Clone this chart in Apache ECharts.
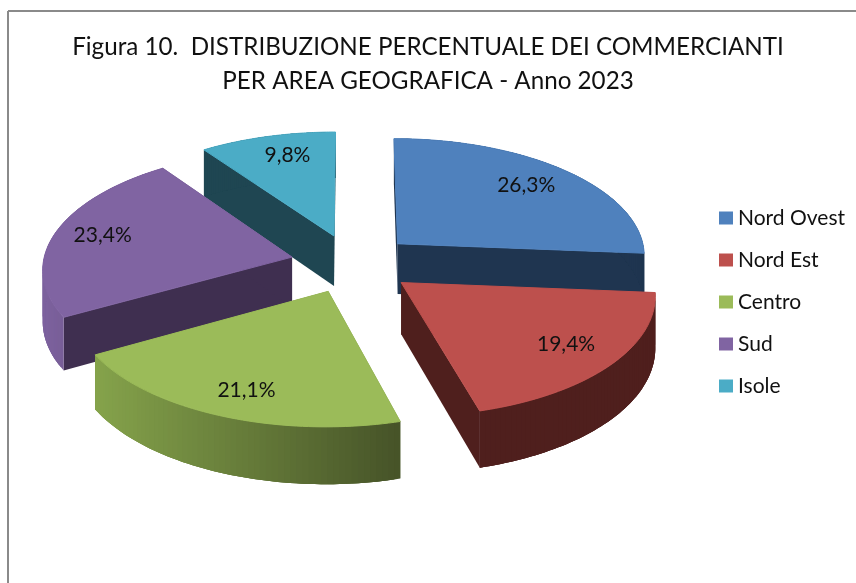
<!DOCTYPE html>
<html>
<head>
<meta charset="utf-8">
<script src="https://cdn.jsdelivr.net/npm/echarts@6/dist/echarts.min.js"></script>
<style>html,body{margin:0;padding:0;background:#fff}#c{width:856px;height:583px}</style>
</head>
<body>
<div id="c"></div>
<script>
// Data
const categories = ['Nord Ovest', 'Nord Est', 'Centro', 'Sud', 'Isole'];
const shares = [26.3, 19.4, 21.1, 23.4, 9.8];
const titleLines = ['Figura 10.  DISTRIBUZIONE PERCENTUALE DEI COMMERCIANTI', 'PER AREA GEOGRAFICA - Anno 2023'];

// Style
const topColors = ['#4f81bd', '#bd504d', '#9bbb59', '#8064a2', '#4bacc6'];
const wallColors = ['#1f3550', '#4f1f1d', '#3f5020', '#3f2f50', '#1f4652'];
const outerFrom = ['#1f3550', '#4f1f1d', '#85a34b', '#7d629e', '#1f4652'];
const outerTo = ['#1f3550', '#4f1f1d', '#465328', '#5f4a7a', '#1f4652'];
const labelNudge = [[6, -5.5], [16.5, 3.5], [-5.5, 11.5], [-18.5, -3.5], [2.5, -7.5]];
const drawOrder = [4, 3, 0, 2, 1];
const FONT = 'Lato, "Open Sans", sans-serif';

// 3D projection of the exploded pie
const CX = 352.5, CY = 263.5, RX = 249, RY = 118, PERSP = 0.09, EXPLODE = 0.25, DEPTH = 51, LABEL_R = 0.72;
const total = shares.reduce((a, b) => a + b, 0);
function project(X, Y, down) {
  const s = 1 / (1 + PERSP * Y);
  return [CX + RX * X * s, CY - RY * Y * s + (down ? DEPTH * s : 0)];
}
function geometry(index, value) {
  let before = 0;
  for (let i = 0; i < index; i++) before += shares[i];
  const a0 = before / total * 2 * Math.PI;
  const a1 = (before + value) / total * 2 * Math.PI;
  const m = (a0 + a1) / 2;
  return { a0, a1, m, ox: EXPLODE * Math.sin(m), oy: EXPLODE * Math.cos(m) };
}
function renderSlice(index) {
  return function (params, api) {
    const value = api.value(0);
    const g = geometry(index, value);
    const topArc = [], lowArc = [];
    const steps = 60;
    for (let k = 0; k <= steps; k++) {
      const t = g.a0 + (g.a1 - g.a0) * k / steps;
      const X = g.ox + Math.sin(t), Y = g.oy + Math.cos(t);
      topArc.push(project(X, Y, false));
      lowArc.push(project(X, Y, true));
    }
    const apexTop = project(g.ox, g.oy, false);
    const apexLow = project(g.ox, g.oy, true);
    const wall = wallColors[index];
    const poly = (points, fill, lw) => ({
      type: 'polygon',
      shape: { points },
      style: lw ? { fill, stroke: fill, lineWidth: lw } : { fill }
    });
    const xs = topArc.map(p => p[0]);
    const minX = Math.min.apply(null, xs), maxX = Math.max.apply(null, xs);
    const strips = [];
    for (let k = 0; k < steps; k++) {
      const n = Math.min(k + 3, steps);
      const t = ((topArc[k][0] + topArc[k + 1][0]) / 2 - minX) / (maxX - minX);
      const c = echarts.color.lerp(t, [outerFrom[index], outerTo[index]]);
      const pts = topArc.slice(k, n + 1).concat(lowArc.slice(k, n + 1).reverse());
      strips.push(poly(pts, c));
    }
    const lp = project(g.ox + LABEL_R * Math.sin(g.m), g.oy + LABEL_R * Math.cos(g.m), false);
    return {
      type: 'group',
      children: [
        poly([apexTop, topArc[0], lowArc[0], apexLow], wall),
        poly([apexTop, topArc[steps], lowArc[steps], apexLow], wall)
      ].concat(strips, [
        poly([apexTop].concat(topArc), topColors[index], 1),
        {
          type: 'text',
          style: {
            text: value.toFixed(1).replace('.', ',') + '%',
            x: lp[0] + labelNudge[index][0],
            y: lp[1] + labelNudge[index][1],
            fill: '#111',
            font: '21px ' + FONT,
            align: 'center',
            verticalAlign: 'middle'
          }
        }
      ])
    };
  };
}

const chart = echarts.init(document.getElementById('c'), null, { renderer: 'canvas' });
chart.setOption({
  animation: false,
  backgroundColor: '#ffffff',
  title: {
    text: titleLines.join('\n'),
    left: 423,
    top: 25,
    textAlign: 'center',
    textStyle: { fontFamily: FONT, fontSize: 24.2, fontWeight: 'normal', color: '#111111', lineHeight: 34 }
  },
  legend: {
    orient: 'vertical',
    left: 714,
    top: 202,
    icon: 'rect',
    itemWidth: 14,
    itemHeight: 13,
    itemGap: 20,
    data: categories,
    selectedMode: false,
    textStyle: { fontFamily: FONT, fontSize: 21, color: '#111111', padding: [0, 0, 0, 0], height: 22, lineHeight: 22 }
  },
  graphic: [
    { type: 'line', silent: true, shape: { x1: 8, y1: 11, x2: 856, y2: 11 }, style: { stroke: '#8a8a8a', lineWidth: 2 } },
    { type: 'line', silent: true, shape: { x1: 8, y1: 11, x2: 8, y2: 583 }, style: { stroke: '#8a8a8a', lineWidth: 2 } }
  ],
  series: drawOrder.map(i => ({
    type: 'custom',
    name: categories[i],
    coordinateSystem: 'none',
    silent: true,
    itemStyle: { color: topColors[i] },
    data: [[shares[i]]],
    renderItem: renderSlice(i)
  }))
});
</script>
</body>
</html>
